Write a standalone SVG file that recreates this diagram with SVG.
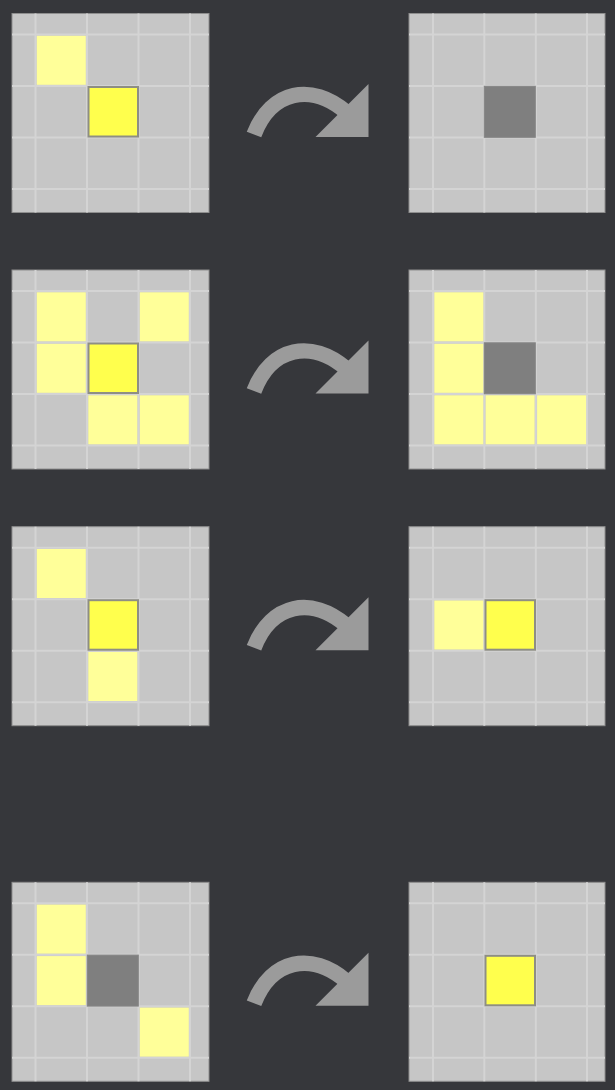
<svg xmlns="http://www.w3.org/2000/svg" width="615" height="1090" viewBox="0 0 615 1090">
<style>
.panel{fill:#c6c6c6;stroke:#8e8e8e;stroke-width:1}
.gl{stroke:#d4d4d4;stroke-width:2}
.lt{fill:#ffff99}
.hi{fill:#ffff4d;stroke:#8e8e84;stroke-width:2}
.gr{fill:#7f7f7f;stroke:#858585;stroke-width:1}
.arc{fill:none;stroke:#9b9b9b;stroke-width:15.5}
.head{fill:#9b9b9b}
</style>
<defs>
<g id="grid">
<rect class="panel" x="0" y="0" width="197" height="199"/>
<path class="gl" d="M23.5,0V199M75,0V199M126.5,0V199M178,0V199M0,21H197M0,72.5H197M0,124H197M0,175.5H197"/>
</g>
<g id="gridR">
<rect class="panel" x="0" y="0" width="196" height="199"/>
<path class="gl" d="M24,0V199M75.3,0V199M126.8,0V199M178,0V199M0,21H196M0,72.5H196M0,124H196M0,175.5H196"/>
</g>
<rect id="L" class="lt" width="49" height="49"/>
<rect id="H" class="hi" width="49.5" height="49.5"/>
<rect id="G" class="gr" width="51" height="51"/>
<g id="arrow">
<path class="arc" d="M254,134.5 C271.3,89.9 311.8,82.75 346,112"/>
<polygon class="head" points="368.5,84 368.5,137 315.5,137"/>
</g>
</defs>
<rect width="615" height="1090" fill="#36373b"/>

<g id="row1-left" transform="translate(12,13.5)">
<use href="#grid"/>
<use href="#L" x="24.8" y="22.3"/>
<use href="#H" x="76.5" y="73.5"/>
</g>
<g id="row1-right" transform="translate(409,13.5)">
<use href="#gridR"/>
<use href="#G" x="75.3" y="72.8"/>
</g>

<g id="row2-left" transform="translate(12,270)">
<use href="#grid"/>
<use href="#L" x="24.8" y="22.3"/>
<use href="#L" x="127.8" y="22.3"/>
<use href="#L" x="24.8" y="73.8"/>
<use href="#H" x="76.5" y="73.5"/>
<use href="#L" x="76.3" y="125.3"/>
<use href="#L" x="127.8" y="125.3"/>
</g>
<g id="row2-right" transform="translate(409,270)">
<use href="#gridR"/>
<use href="#L" x="25.3" y="22.3"/>
<use href="#L" x="25.3" y="73.8"/>
<use href="#L" x="25.3" y="125.3"/>
<use href="#L" x="76.6" y="125.3"/>
<use href="#L" x="128.1" y="125.3"/>
<use href="#G" x="75.3" y="72.8"/>
</g>

<g id="row3-left" transform="translate(12,526.7)">
<use href="#grid"/>
<use href="#L" x="24.8" y="22.3"/>
<use href="#L" x="76.3" y="125.3"/>
<use href="#H" x="76.5" y="73.5"/>
</g>
<g id="row3-right" transform="translate(409,526.7)">
<use href="#gridR"/>
<use href="#L" x="25.3" y="73.8"/>
<use href="#H" x="76.5" y="73.5"/>
</g>

<g id="row4-left" transform="translate(12,882.3)">
<use href="#grid"/>
<use href="#L" x="24.8" y="22.3"/>
<use href="#L" x="24.8" y="73.8"/>
<use href="#L" x="127.8" y="125.3"/>
<use href="#G" x="75.3" y="72.8"/>
</g>
<g id="row4-right" transform="translate(409,882.3)">
<use href="#gridR"/>
<use href="#H" x="76.5" y="73.5"/>
</g>

<g id="connectors">
<use href="#arrow"/>
<use href="#arrow" y="256.5"/>
<use href="#arrow" y="513.2"/>
<use href="#arrow" y="868.8"/>
</g>
</svg>
